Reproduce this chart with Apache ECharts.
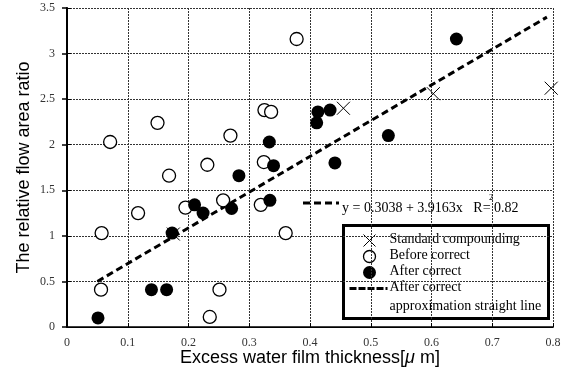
<!DOCTYPE html>
<html>
<head>
<meta charset="utf-8">
<script src="https://cdn.jsdelivr.net/npm/echarts@6/dist/echarts.min.js"></script>
<style>
  html, body { margin: 0; padding: 0; background: #fff; }
  #chart { width: 568px; height: 370px; }
</style>
</head>
<body>
<div id="chart"></div>
<script>
// values
const standardCompounding = [[0.175, 1.02], [0.455, 2.40], [0.603, 2.56], [0.797, 2.62]];
const beforeCorrect = [
  [0.071, 2.03], [0.149, 2.24], [0.168, 1.66], [0.378, 3.16], [0.325, 2.38], [0.336, 2.36],
  [0.269, 2.10], [0.231, 1.78], [0.324, 1.81], [0.057, 1.03], [0.117, 1.25], [0.056, 0.41],
  [0.195, 1.31], [0.257, 1.39], [0.319, 1.34], [0.360, 1.03], [0.251, 0.41], [0.235, 0.11],
];
const afterCorrect = [
  [0.413, 2.36], [0.433, 2.38], [0.411, 2.24], [0.333, 2.03], [0.340, 1.77], [0.283, 1.66],
  [0.441, 1.80], [0.529, 2.10], [0.641, 3.16], [0.051, 0.10], [0.139, 0.41], [0.164, 0.41],
  [0.173, 1.03], [0.210, 1.34], [0.224, 1.25], [0.271, 1.30], [0.334, 1.39],
];
const fitLine = [[0.05, 0.50], [0.79, 3.40]];
const fitText = "y = 0.3038 + 3.9163x   R= 0.82";

const serif = "Liberation Serif";
const sans = "Liberation Sans";
const crossPath = "path://M0,0L10,10M10,0L0,10";

const chart = echarts.init(document.getElementById("chart"));

const tickLabel = { fontFamily: serif, fontSize: 12, color: "#333" };
const dashedGrid = { show: true, lineStyle: { color: "#333", type: [2, 1], width: 1 } };

chart.setOption({
  animation: false,
  grid: { left: 67, right: 15, top: 8, bottom: 43, outerBoundsMode: "none" },
  xAxis: [
    {
      type: "value", min: 0, max: 0.8, interval: 0.1,
      axisLine: { lineStyle: { color: "#000", width: 1.5 } },
      axisTick: { inside: true, length: 4, lineStyle: { color: "#000" } },
      axisLabel: { ...tickLabel, margin: 10, formatter: (v) => (v === 0 ? "0" : String(+v.toFixed(1))) },
      splitLine: dashedGrid,
      name: "{a|Excess water film thickness[}{i|μ}{a| m]}",
      nameLocation: "middle",
      nameGap: 21,
      nameMoveOverlap: false,
      nameTextStyle: {
        rich: {
          a: { fontFamily: sans, fontSize: 18, lineHeight: 20, color: "#000" },
          i: { fontFamily: sans, fontSize: 18, lineHeight: 20, fontStyle: "italic", color: "#000" },
        },
      },
    },
    {
      type: "value", position: "top", min: 0, max: 0.8, interval: 0.1,
      axisLine: { show: true, lineStyle: { color: "#000", width: 1 } },
      axisTick: { show: false }, axisLabel: { show: false }, splitLine: { show: false },
    },
  ],
  yAxis: [
    {
      type: "value", min: 0, max: 3.5, interval: 0.5,
      axisLine: { show: true, lineStyle: { color: "#000", width: 1.5 } },
      axisTick: { show: true, inside: true, length: 4, lineStyle: { color: "#000" } },
      axisLabel: { ...tickLabel, margin: 12 },
      splitLine: dashedGrid,
      name: "The relative flow area ratio",
      nameLocation: "middle",
      nameGap: 34,
      nameMoveOverlap: false,
      nameTextStyle: { fontFamily: sans, fontSize: 18, color: "#000" },
    },
    {
      type: "value", position: "right", min: 0, max: 3.5, interval: 0.5,
      axisLine: { show: true, lineStyle: { color: "#000", width: 2 } },
      axisTick: { show: true, inside: true, length: 5, lineStyle: { color: "#000", width: 1.5 } },
      axisLabel: { show: false }, splitLine: { show: false },
    },
  ],
  series: [
    {
      name: "After correct approximation straight line",
      type: "line",
      data: fitLine,
      symbol: "none",
      lineStyle: { color: "#000", width: 3, type: [7, 4] },
      z: 1,
    },
    {
      name: "Before correct",
      type: "scatter",
      data: beforeCorrect,
      symbol: "circle",
      symbolSize: 13,
      itemStyle: { color: "#fff", borderColor: "#000", borderWidth: 1.3, opacity: 1 },
      z: 2,
    },
    {
      name: "Standard compounding",
      type: "scatter",
      data: standardCompounding,
      symbol: crossPath,
      symbolSize: 13,
      itemStyle: { color: "none", borderColor: "#000", borderWidth: 1, opacity: 1 },
      z: 3,
    },
    {
      name: "After correct",
      type: "scatter",
      data: afterCorrect,
      symbol: "circle",
      symbolSize: 13,
      itemStyle: { color: "#000", opacity: 1 },
      z: 4,
    },
  ],
  graphic: [
    // fit equation annotation
    { type: "line", shape: { x1: 303, y1: 203, x2: 339, y2: 203 }, style: { stroke: "#000", lineWidth: 3, lineDash: [7, 4] }, z: 10 },
    { type: "text", left: 342, top: 201, style: { text: fitText, fontFamily: serif, fontSize: 14, fill: "#000" }, z: 10 },
    { type: "text", left: 489, top: 194, style: { text: "2", fontFamily: serif, fontSize: 8, fill: "#000" }, z: 10 },
    // legend box
    {
      type: "group", left: 342, top: 224, z: 20,
      children: [
        { type: "rect", shape: { x: 0, y: 0, width: 205, height: 93 }, style: { fill: "#fff", stroke: "#000", lineWidth: 3 } },
        { type: "line", shape: { x1: 20, y1: 9, x2: 32, y2: 21 }, style: { stroke: "#000", lineWidth: 1 } },
        { type: "line", shape: { x1: 32, y1: 9, x2: 20, y2: 21 }, style: { stroke: "#000", lineWidth: 1 } },
        { type: "circle", shape: { cx: 26, cy: 31, r: 6 }, style: { fill: "#fff", stroke: "#000", lineWidth: 1.3 } },
        { type: "circle", shape: { cx: 26, cy: 47, r: 6.5 }, style: { fill: "#000" } },
        { type: "line", shape: { x1: 6, y1: 63, x2: 44, y2: 63 }, style: { stroke: "#000", lineWidth: 3, lineDash: [7, 2] } },
        { type: "text", x: 46, y: 7, style: { text: "Standard compounding", fontFamily: serif, fontSize: 14, fill: "#000" } },
        { type: "text", x: 46, y: 23, style: { text: "Before correct", fontFamily: serif, fontSize: 14, fill: "#000" } },
        { type: "text", x: 46, y: 39, style: { text: "After correct", fontFamily: serif, fontSize: 14, fill: "#000" } },
        { type: "text", x: 46, y: 55, style: { text: "After correct", fontFamily: serif, fontSize: 14, fill: "#000" } },
        { type: "text", x: 46, y: 74, style: { text: "approximation straight line", fontFamily: serif, fontSize: 14, fill: "#000" } },
      ],
    },
  ],
});
</script>
</body>
</html>
